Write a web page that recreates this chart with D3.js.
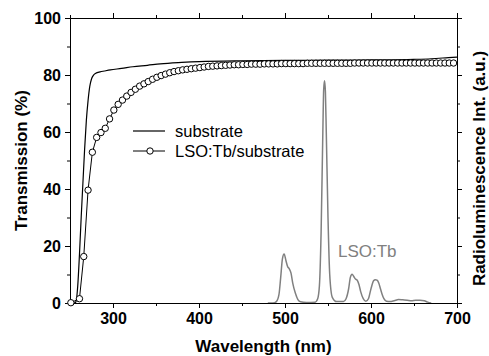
<!DOCTYPE html>
<html><head><meta charset="utf-8">
<script src="https://cdn.jsdelivr.net/npm/d3@7"></script>
<style>
html,body{margin:0;padding:0;background:#fff;}
svg{display:block;font-family:"Liberation Sans",Arial,Helvetica,sans-serif;}
</style></head>
<body>
<svg id="c" width="489" height="356"></svg>
<script>
// ---- data ----
const xTicks = [300, 400, 500, 600, 700];
const xMinor = [250, 350, 450, 550, 650];
const yTicks = [0, 20, 40, 60, 80, 100];
const yMinor = [10, 30, 50, 70, 90];

// substrate transmission (solid line)
const subWl = [250,255,257,259,261,263,265,267,269,271,273,275,277,280,285,290,297,310,323,340,355,380,400,450,500,550,600,650,670,690,700];
const subT  = [0,0,0.5,6,17,30,42,54,64,71,76,78.6,79.8,80.6,81.1,81.4,81.8,82.3,82.9,83.4,83.9,84.4,84.7,85.0,85.1,85.2,85.3,85.5,85.7,86.1,86.3];

// LSO:Tb/substrate transmission (line + open circles)
const lsoWl = [251,261,266,271,276,281,286,291,296,301,306,311,316,321,326,331,336,341,346,351,356,361,366,371,376,381,386,391,396,401,406,411,416,421,426,431,436,441,446,451,456,461,466,471,476,481,486,491,496,501,506,511,516,521,526,531,536,541,546,551,556,561,566,571,576,581,586,591,596,601,606,611,616,621,626,631,636,641,646,651,656,661,666,671,676,681,686,691,696];
const lsoT  = [0.1,1.5,16.3,39.6,52.9,58.1,59.8,61.3,64.6,67.7,69.7,71.2,72.6,73.9,75.0,76.1,76.9,77.7,78.5,79.2,79.8,80.3,80.8,81.2,81.5,81.8,82.0,82.2,82.4,82.6,82.8,83.0,83.1,83.2,83.3,83.4,83.5,83.6,83.6,83.7,83.7,83.8,83.8,83.8,83.9,83.9,83.9,83.9,84.0,84.0,84.0,84.0,84.0,84.0,84.1,84.1,84.1,84.1,84.1,84.1,84.1,84.1,84.1,84.1,84.1,84.2,84.2,84.2,84.2,84.2,84.2,84.2,84.2,84.2,84.2,84.2,84.2,84.2,84.2,84.2,84.2,84.2,84.2,84.2,84.2,84.2,84.2,84.2,84.2];

// radioluminescence spectrum (a.u., right axis)
const rlWl = [480,486,490,493,495,497,499,501,503,505,507,509,512,515,518,525,535,538,540,542,544,545,546,547,548,550,552,555,560,568,571,574,576,578,580,582,584,586,588,591,594,597,600,603,605,607,609,611,613,615,618,622,627,632,637,642,647,652,657,662,666,670];
const rlI  = [0,0,0.5,3,9,15.5,17.2,15,12.8,12.0,10.5,7,3.5,1.2,0.4,0.2,0.3,1.5,6,25,60,75,78,74,60,30,10,2,0.5,0.5,1.5,5,9,10.1,9.3,8.4,8,6.5,4,1.5,0.6,1.5,5,7.8,8.2,8,7,5,3,1.5,0.6,0.5,0.8,1.2,1.1,1,0.8,1,1,0.8,0.3,0];

const legendLabels = ["substrate", "LSO:Tb/substrate"];
const rlLabel = "LSO:Tb";

// ---- drawing ----
const svg = d3.select("#c");
const L = 70, R = 457, T = 18, B = 303;
const x = d3.scaleLinear().domain([250, 700]).range([L, R]);
const y = d3.scaleLinear().domain([0, 100]).range([B, T]);
const yR = d3.scaleLinear().domain([0, 100]).range([B, T]);

const tickFont = "bold 16px 'Liberation Sans', Arial, sans-serif";

function styleAxis(g){
  g.selectAll("path.domain").attr("stroke","#000").attr("stroke-width",1);
  g.selectAll("line").attr("stroke","#000").attr("stroke-width",1);
  g.selectAll("text").attr("fill","#000").style("font", tickFont);
}

// minor ticks
svg.append("g").attr("transform",`translate(0,${B})`).call(d3.axisBottom(x).tickValues(xMinor).tickSize(3).tickSizeOuter(0).tickFormat("")).call(styleAxis);
svg.append("g").attr("transform",`translate(0,${T})`).call(d3.axisTop(x).tickValues(xMinor).tickSize(3).tickSizeOuter(0).tickFormat("")).call(styleAxis);
svg.append("g").attr("transform",`translate(${L},0)`).call(d3.axisLeft(y).tickValues(yMinor).tickSize(3).tickSizeOuter(0).tickFormat("")).call(styleAxis);
svg.append("g").attr("transform",`translate(${R},0)`).call(d3.axisRight(yR).tickValues(yMinor).tickSize(3).tickSizeOuter(0).tickFormat("")).call(styleAxis);
// major ticks
svg.append("g").attr("transform",`translate(0,${B})`).call(d3.axisBottom(x).tickValues(xTicks).tickSize(5).tickPadding(5).tickSizeOuter(0).tickFormat(d3.format("d"))).call(styleAxis);
svg.append("g").attr("transform",`translate(0,${T})`).call(d3.axisTop(x).tickValues(xTicks).tickSize(5).tickSizeOuter(0).tickFormat("")).call(styleAxis);
svg.append("g").attr("transform",`translate(${L},0)`).call(d3.axisLeft(y).tickValues(yTicks).tickSize(5).tickPadding(4).tickSizeOuter(0).tickFormat(d3.format("d"))).call(styleAxis);
svg.append("g").attr("transform",`translate(${R},0)`).call(d3.axisRight(yR).tickValues(yTicks).tickSize(5).tickSizeOuter(0).tickFormat("")).call(styleAxis);

// clip
svg.append("clipPath").attr("id","clip").append("rect").attr("x",L).attr("y",T).attr("width",R-L).attr("height",B-T);
const plot = svg.append("g").attr("clip-path","url(#clip)");

// spectrum
const rlData = rlWl.map((w,i)=>({w, v: rlI[i]}));
plot.append("path").datum(rlData)
  .attr("fill","none").attr("stroke","#808080").attr("stroke-width",1.5)
  .attr("d", d3.line().x(d=>x(d.w)).y(d=>yR(d.v)).curve(d3.curveMonotoneX));

// substrate
const subData = subWl.map((w,i)=>({w, v: subT[i]}));
plot.append("path").datum(subData)
  .attr("fill","none").attr("stroke","#000").attr("stroke-width",1.2)
  .attr("d", d3.line().x(d=>x(d.w)).y(d=>y(d.v)).curve(d3.curveMonotoneX));

// LSO:Tb/substrate
const lsoData = lsoWl.map((w,i)=>({w, v: lsoT[i]}));
plot.append("path").datum(lsoData)
  .attr("fill","none").attr("stroke","#000").attr("stroke-width",1)
  .attr("d", d3.line().x(d=>x(d.w)).y(d=>y(d.v)));
svg.append("g").selectAll("circle").data(lsoData).join("circle")
  .attr("cx", d=>x(d.w)).attr("cy", d=>y(d.v)).attr("r", 3.2)
  .attr("fill","#fff").attr("stroke","#000").attr("stroke-width",1);

// legend
const lg = svg.append("g");
lg.append("line").attr("x1",133).attr("x2",165).attr("y1",131).attr("y2",131).attr("stroke","#000").attr("stroke-width",1.2);
lg.append("text").attr("x",175).attr("y",137).text(legendLabels[0]).style("font","16.5px 'Liberation Sans', Arial, sans-serif");
lg.append("line").attr("x1",133).attr("x2",165).attr("y1",151).attr("y2",151).attr("stroke","#000").attr("stroke-width",1);
lg.append("circle").attr("cx",150).attr("cy",151).attr("r",3.2).attr("fill","#fff").attr("stroke","#000");
lg.append("text").attr("x",175).attr("y",157).text(legendLabels[1]).style("font","16.5px 'Liberation Sans', Arial, sans-serif");

// spectrum label
svg.append("text").attr("x",338).attr("y",257).text(rlLabel).attr("fill","#808080").style("font","17px 'Liberation Sans', Arial, sans-serif");

// axis titles
svg.append("text").attr("x",(L+R)/2).attr("y",352).attr("text-anchor","middle").text("Wavelength (nm)").style("font","bold 17px 'Liberation Sans', Arial, sans-serif");
svg.append("text").attr("transform",`translate(27,${(T+B)/2}) rotate(-90)`).attr("text-anchor","middle").text("Transmission (%)").style("font","bold 17px 'Liberation Sans', Arial, sans-serif");
svg.append("text").attr("transform",`translate(485,168.5) rotate(-90)`).attr("text-anchor","middle").text("Radioluminescence Int. (a.u.)").style("font","bold 17px 'Liberation Sans', Arial, sans-serif");
</script>
</body></html>
